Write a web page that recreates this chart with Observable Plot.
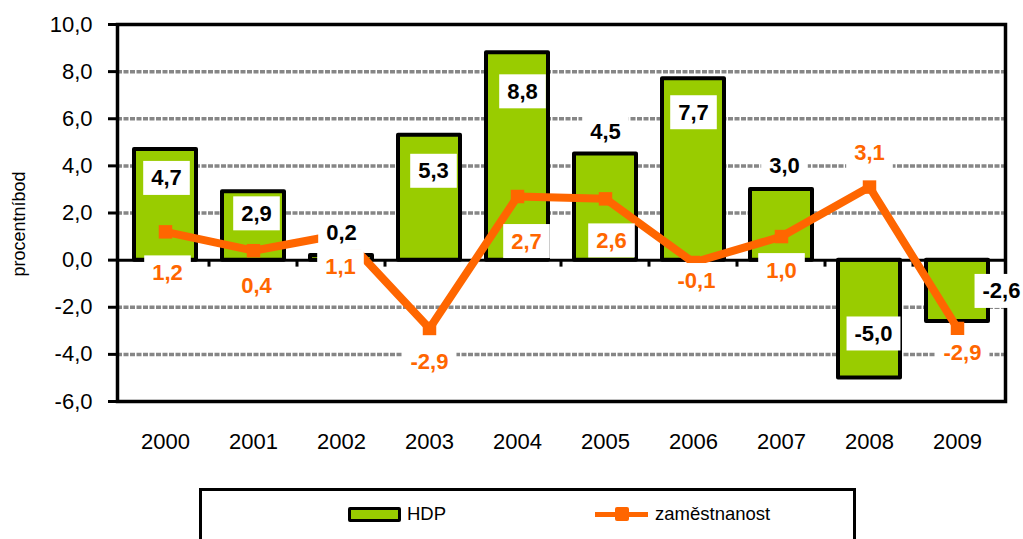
<!DOCTYPE html>
<html>
<head>
<meta charset="utf-8">
<script src="https://cdn.jsdelivr.net/npm/d3@7"></script>
<script src="https://cdn.jsdelivr.net/npm/@observablehq/plot@0.6"></script>
<style>
  html, body { margin: 0; padding: 0; background: #fff; }
  body { width: 1023px; height: 539px; overflow: hidden; position: relative; font-family: "Liberation Sans", Arial, sans-serif; }
  #chart { position: absolute; left: 0; top: 0; }
  .lg { position: absolute; box-sizing: border-box; }
  .lgt { position: absolute; font-size: 18.5px; line-height: 20px; color: #000; white-space: nowrap; }
</style>
</head>
<body>
<div id="chart"></div>
<div class="lg" style="left:199px; top:488px; width:657px; height:80px; border:3px solid #000;"></div>
<div class="lg" style="left:348px; top:507px; width:53px; height:15px; background:#99CC00; border:3.5px solid #000; border-radius:2px;"></div>
<div class="lgt" style="left:407px; top:504px;">HDP</div>
<div class="lg" style="left:595px; top:512px; width:53px; height:5px; background:#FF6600;"></div>
<div class="lg" style="left:615px; top:507px; width:14px; height:14px; background:#FF6600; border-radius:2px;"></div>
<div class="lgt" style="left:655px; top:504px;">zaměstnanost</div>
<script>
// ---- data ----
const years = ["2000", "2001", "2002", "2003", "2004", "2005", "2006", "2007", "2008", "2009"];
const hdp = [4.7, 2.9, 0.2, 5.3, 8.8, 4.5, 7.7, 3.0, -5.0, -2.6];
const zamestnanost = [1.2, 0.4, 1.1, -2.9, 2.7, 2.6, -0.1, 1.0, 3.1, -2.9];
const yTicks = [-6, -4, -2, 0, 2, 4, 6, 8, 10];
const gridValues = [-4, -2, 2, 4, 6, 8];
const yTitle = "procentníbod";

// ---- label placement (pixel offsets from each data point) ----
const hdpLabelDx = [1, 3, 0, 4, 5, 0, 0, 3, 4, 44];
const hdpLabelDy = [29, 22, -22, 36, 39, -22, 34, -23, -44, -30];
const zamLabelDx = [2, 3, -1, 0, 9, 6, 3, 0, 0, 5];
const zamLabelDy = [41, 35, 33, 33, 45, 42, 18, 34, -34, 24];

const fmt = v => v.toFixed(1).replace(".", ",");
const rows = years.map((year, i) => ({year, hdp: hdp[i], zam: zamestnanost[i], i}));

const GREEN = "#99CC00", ORANGE = "#FF6600", GRID = "#868686";
const FONT = "'Liberation Sans', Arial, sans-serif";

const labelMarks = [];
rows.forEach((r, i) => {
  labelMarks.push(Plot.text([r], {
    x: "year", y: "hdp", text: d => fmt(d.hdp),
    dx: hdpLabelDx[i], dy: hdpLabelDy[i],
    fill: "#000", fontWeight: "bold", fontSize: 22
  }));
  labelMarks.push(Plot.text([r], {
    x: "year", y: "zam", text: d => fmt(d.zam),
    dx: zamLabelDx[i], dy: zamLabelDy[i],
    fill: ORANGE, fontWeight: "bold", fontSize: 22
  }));
});

// small ticks on the zero line between categories
const zeroTicks = (index, scales) => {
  const x = scales.x, y = scales.y;
  const step = x.step(), bw = x.bandwidth();
  const g = d3.create("svg:g");
  years.slice(1).forEach(yr => {
    const bx = x(yr) - (step - bw) / 2;
    g.append("line").attr("x1", bx).attr("x2", bx)
      .attr("y1", y(0)).attr("y2", y(0) + 7)
      .attr("stroke", "#000").attr("stroke-width", 3);
  });
  return g.node();
};

const chart = Plot.plot({
  width: 1023,
  height: 480,
  marginTop: 24,
  marginBottom: 79,
  marginLeft: 117,
  marginRight: 18,
  style: {fontFamily: FONT, fontSize: "22px", color: "#000", background: "#fff", overflow: "visible"},
  x: {domain: years, paddingInner: 0.29, paddingOuter: 0.145, label: null},
  y: {domain: [-6, 10], label: null},
  marks: [
    Plot.ruleY(gridValues, {stroke: GRID, strokeWidth: 3.5, strokeDasharray: "5,1.5"}),
    Plot.barY(rows, {x: "year", y: "hdp", fill: GREEN, stroke: "#000", strokeWidth: 4, strokeLinejoin: "round"}),
    Plot.ruleY([0], {stroke: "#000", strokeWidth: 3}),
    zeroTicks,
    Plot.frame({stroke: "#000", strokeWidth: 3.5}),
    Plot.axisY({ticks: yTicks, tickFormat: fmt, tickSize: 9, tickPadding: 16, strokeWidth: 3, fontSize: 22, label: null}),
    Plot.axisX({tickSize: 0, tickPadding: 32, fontSize: 22, label: null}),
    Plot.text([yTitle], {text: d => d, frameAnchor: "left", textAnchor: "middle", dx: -98, dy: 11, rotate: -90, fontSize: 18, fill: "#000"}),
    Plot.line(rows, {x: "year", y: "zam", stroke: ORANGE, strokeWidth: 8, strokeLinejoin: "round"}),
    Plot.dot(rows, {x: "year", y: "zam", symbol: "square", r: 7.6, fill: ORANGE, stroke: "none"}),
    ...labelMarks
  ]
});

document.getElementById("chart").appendChild(chart);

// white boxes behind value labels (bold text marks)
const svgNS = "http://www.w3.org/2000/svg";
chart.querySelectorAll('g[font-weight="bold"] text').forEach(t => {
  const bb = t.getBBox();
  const rect = document.createElementNS(svgNS, "rect");
  const cy = bb.y + bb.height / 2;
  rect.setAttribute("x", bb.x - 8);
  rect.setAttribute("y", cy - 17);
  rect.setAttribute("width", bb.width + 16);
  rect.setAttribute("height", 34);
  rect.setAttribute("fill", "#fff");
  rect.setAttribute("stroke", "none");
  const tr = t.getAttribute("transform");
  if (tr) rect.setAttribute("transform", tr);
  t.parentNode.insertBefore(rect, t);
});
</script>
</body>
</html>
